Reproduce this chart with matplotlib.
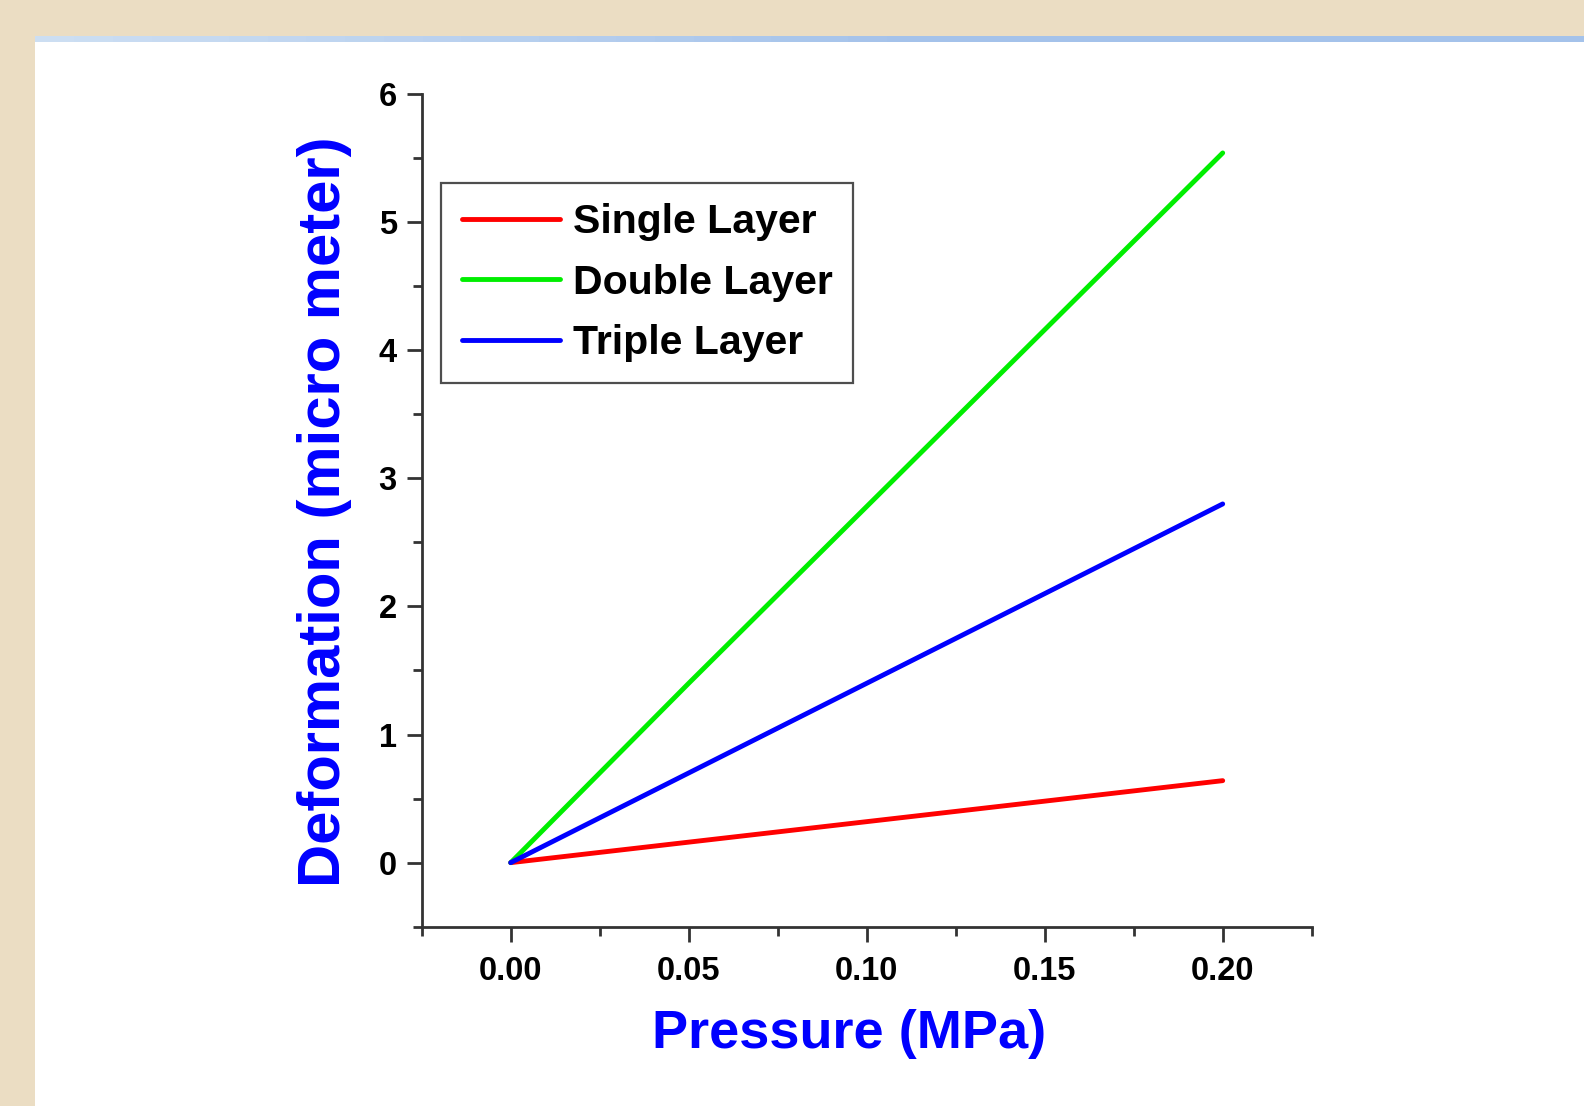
import matplotlib
matplotlib.use("Agg")
import matplotlib.pyplot as plt
import numpy as np
from matplotlib.patches import Rectangle
from matplotlib.ticker import MultipleLocator

plt.rcParams['font.family'] = ['Liberation Sans', 'DejaVu Sans']

pressure = [0.0, 0.05, 0.10, 0.20]
single_layer = [0.0, 0.16, 0.32, 0.64]
double_layer = [0.0, 1.40, 2.78, 5.54]
triple_layer = [0.0, 0.70, 1.40, 2.80]
series_names = ["Single Layer", "Double Layer", "Triple Layer"]
series_colors = ["#FF0000", "#00EE00", "#0000FF"]
x_ticks = [0.00, 0.05, 0.10, 0.15, 0.20]
x_tick_labels = ["0.00", "0.05", "0.10", "0.15", "0.20"]
y_ticks = [0, 1, 2, 3, 4, 5, 6]

W, H = 1584, 1106
fig = plt.figure(figsize=(W / 100, H / 100), dpi=100)
fig.patch.set_facecolor("#EBDDC3")

# white panel and blue band (decoration)
fig.patches.append(Rectangle((35.4 / W, 0), 1, 1 - 42 / H, transform=fig.transFigure,
                             facecolor="white", edgecolor="none", zorder=-10))
x0 = 35.4 / W
c_light = np.array([0.80, 0.87, 0.95])
c_dark = np.array([0.643, 0.761, 0.918])
nseg = 40
seg_w = (1 - x0) / nseg
for i in range(nseg):
    t = min(1.0, i / (nseg * 0.55))
    col = c_light * (1 - t) + c_dark * t
    fig.patches.append(Rectangle((x0 + i * seg_w, 1 - 41.5 / H), seg_w * 1.02, 5.5 / H,
                                 transform=fig.transFigure, facecolor=col,
                                 edgecolor="none", zorder=-9))

left, right = 421.7 / W, 1311.7 / W
bottom, top = 1 - 926.7 / H, 1 - 94 / H
ax = fig.add_axes([left, bottom, right - left, top - bottom])
ax.set_zorder(5)
ax.patch.set_alpha(0.0)

for vals, name, col in zip([single_layer, double_layer, triple_layer], series_names, series_colors):
    ax.plot(pressure, vals, color=col, lw=3.5, label=name, solid_capstyle='round', zorder=3)

ax.set_xlim(-0.025, 0.225)
ax.set_ylim(-0.5, 6)
ax.set_xticks(x_ticks)
ax.set_xticklabels(x_tick_labels)
ax.set_yticks(y_ticks)
ax.xaxis.set_minor_locator(MultipleLocator(0.025))
ax.yaxis.set_minor_locator(MultipleLocator(0.5))

for s in ["top", "right"]:
    ax.spines[s].set_visible(False)
for s in ["left", "bottom"]:
    ax.spines[s].set_color("#333333")
    ax.spines[s].set_linewidth(2.0)

ax.tick_params(which='major', direction='out', length=11, width=2.0, color="#333333",
               labelsize=23.5)
ax.tick_params(axis='x', which='major', pad=10)
ax.tick_params(axis='y', which='major', pad=7)
ax.tick_params(which='minor', direction='out', length=6.5, width=2.0, color="#333333")
for lbl in ax.get_xticklabels() + ax.get_yticklabels():
    lbl.set_fontweight('bold')

ax.set_xlabel("Pressure (MPa)", fontsize=39, fontweight='bold', color="#0000FF")
ax.set_ylabel("Deformation (micro meter)", fontsize=43, fontweight='bold', color="#0000FF")
ax.xaxis.set_label_coords(0.4797, -0.099)
ax.yaxis.set_label_coords(-0.0785, 0.498)

leg = ax.legend(loc='upper left', bbox_to_anchor=(0.0222, 0.8934), borderaxespad=0,
                prop={'size': 29.5, 'weight': 'bold'}, frameon=True, fancybox=False,
                handlelength=2.4, handletextpad=0.3, labelspacing=0.55, borderpad=0.5)
leg.get_frame().set_edgecolor("#222222")
leg.get_frame().set_linewidth(1.6)
for line in leg.get_lines():
    line.set_linewidth(3.5)

fig.savefig("out.png", dpi=100, facecolor=fig.get_facecolor())
